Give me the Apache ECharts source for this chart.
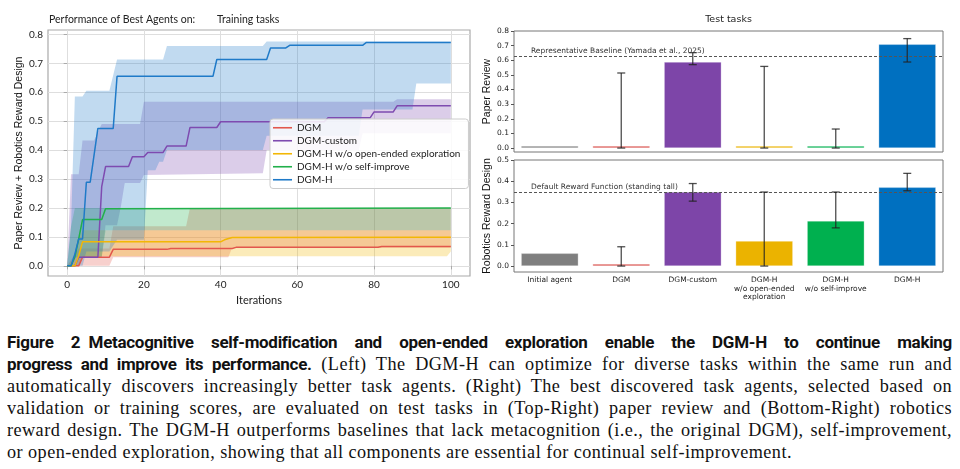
<!DOCTYPE html>
<html>
<head>
<meta charset="utf-8">
<script src="https://cdn.jsdelivr.net/npm/echarts@6/dist/echarts.min.js"></script>
<style>
  html, body { margin: 0; padding: 0; background: #fff; }
  #wrap { position: relative; width: 960px; height: 469px; overflow: hidden; }
  #chart { position: absolute; left: 0; top: 0; width: 960px; height: 320px; }
  #caption { position: absolute; left: 7px; top: 331px; width: 945px;
    font-family: "Liberation Serif", serif; font-size: 18.2px; letter-spacing: 0.45px; color: #111; }
  #caption .ln { height: 22px; line-height: 22px; text-align: justify; text-align-last: justify; overflow: hidden; }
  #caption .ln.last { text-align-last: left; }
  #caption b { font-family: Roboto, "Liberation Sans", sans-serif; font-weight: bold; font-size: 17px; letter-spacing: -0.3px; }
</style>
</head>
<body>
<div id="wrap">
  <div id="chart"></div>
  <div id="caption">
    <div class="ln"><b>Figure 2&ensp;Metacognitive self-modification and open-ended exploration enable the DGM-H to continue making</b></div>
    <div class="ln"><b>progress and improve its performance.</b> (Left) The DGM-H can optimize for diverse tasks within the same run and</div>
    <div class="ln">automatically discovers increasingly better task agents. (Right) The best discovered task agents, selected based on</div>
    <div class="ln">validation or training scores, are evaluated on test tasks in (Top-Right) paper review and (Bottom-Right) robotics</div>
    <div class="ln">reward design. The DGM-H outperforms baselines that lack metacognition (i.e., the original DGM), self-improvement,</div>
    <div class="ln last">or open-ended exploration, showing that all components are essential for continual self-improvement.</div>
  </div>
</div>
<script>
// ---------------------------------------------------------------------------
// Left panel: best-agent score over iterations (mean + spread band).
// Curves are [iteration, score]; bands are [iteration, low, high].
// ---------------------------------------------------------------------------
const iterTicks = [0, 20, 40, 60, 80, 100];
const scoreTicks = [0, 0.1, 0.2, 0.3, 0.4, 0.5, 0.6, 0.7, 0.8];

const dgmMean = [[0, 0], [3, 0], [4, 0.03], [11, 0.03], [12, 0.057], [26, 0.057], [27, 0.06],
  [43, 0.06], [44, 0.064], [81, 0.064], [82, 0.067], [100, 0.067]];
const customMean = [[0, 0], [2, 0], [3, 0.03], [8, 0.03], [9, 0.274], [10, 0.343], [16, 0.343],
  [17, 0.377], [20, 0.377], [21, 0.392], [25, 0.392], [26, 0.414], [31, 0.414], [32, 0.478],
  [39, 0.478], [40, 0.498], [67, 0.498], [68, 0.512], [79, 0.512], [80, 0.532], [85, 0.532],
  [86, 0.553], [100, 0.553]];
const noOpenMean = [[0, 0], [2, 0], [3, 0.035], [4, 0.083], [40, 0.083], [41, 0.09], [43, 0.098],
  [100, 0.099]];
const noSelfMean = [[0, 0], [1, 0], [2, 0.03], [3, 0.093], [4, 0.16], [9, 0.16], [10, 0.197],
  [100, 0.2]];
const dgmhMean = [[0, 0], [1, 0], [2, 0.04], [3, 0.093], [4, 0.093], [5, 0.289], [6, 0.289],
  [8, 0.475], [12, 0.475], [13, 0.655], [38, 0.655], [39, 0.713], [52, 0.713], [53, 0.753],
  [57, 0.753], [58, 0.762], [77, 0.762], [78, 0.772], [100, 0.772]];

const dgmBand = [[0, 0, 0], [3, 0, 0.06], [11, 0, 0.06], [12, 0.03, 0.137], [31, 0.03, 0.137],
  [32, 0.03, 0.2], [42, 0.03, 0.2], [43, 0.063, 0.2], [100, 0.063, 0.2]];
const customBand = [[0, 0, 0], [1, 0, 0.317], [3, 0, 0.317], [4, 0.03, 0.433], [7, 0.03, 0.433],
  [9, 0.03, 0.49], [10, 0.14, 0.49], [13, 0.14, 0.49], [14, 0.205, 0.49], [15, 0.286, 0.49],
  [19, 0.286, 0.49], [20, 0.314, 0.567], [51, 0.32, 0.567], [52, 0.4, 0.567], [76, 0.4, 0.567],
  [77, 0.458, 0.567], [85, 0.458, 0.567], [86, 0.458, 0.576], [100, 0.458, 0.576]];
const noOpenBand = [[0, 0, 0], [2, 0, 0.03], [3, 0, 0.09], [4, 0.033, 0.123], [99, 0.033, 0.123],
  [100, 0.05, 0.123]];
const noSelfBand = [[0, 0, 0], [1, 0, 0.135], [2, 0.03, 0.2], [9, 0.03, 0.2], [10, 0.123, 0.2],
  [100, 0.123, 0.2]];
const dgmhBand = [[0, 0, 0], [1, 0, 0.135], [2, 0, 0.585], [4, 0, 0.585], [5, 0.05, 0.605],
  [11, 0.05, 0.605], [13, 0.09, 0.713], [20, 0.09, 0.713], [21, 0.33, 0.713], [23, 0.33, 0.713],
  [24, 0.36, 0.713], [25, 0.36, 0.713], [26, 0.4, 0.76], [51, 0.4, 0.76], [52, 0.45, 0.775],
  [76, 0.45, 0.775], [77, 0.54, 0.775], [90, 0.54, 0.775], [91, 0.63, 0.775], [100, 0.63, 0.775]];

const runNames = ['DGM', 'DGM-custom', 'DGM-H w/o open-ended exploration', 'DGM-H w/o self-improve', 'DGM-H'];
const runMeans = [dgmMean, customMean, noOpenMean, noSelfMean, dgmhMean];
const runBands = [dgmBand, customBand, noOpenBand, noSelfBand, dgmhBand];

// ---------------------------------------------------------------------------
// Right panels: test-task scores of the best agents, with error ranges.
// ---------------------------------------------------------------------------
const agents = ['Initial agent', 'DGM', 'DGM-custom', 'DGM-H\nw/o open-ended\nexploration',
  'DGM-H\nw/o self-improve', 'DGM-H'];
const paperScore = [0, 0, 0.588, 0, 0, 0.709];
const paperErr = [null, [0, 0.513], [0.57, 0.652], [0, 0.558], [0, 0.13], [0.588, 0.748]];
const paperBaseline = 0.629;
const roboScore = [0.06, 0, 0.349, 0.118, 0.213, 0.371];
const roboErr = [null, [0, 0.091], [0.306, 0.389], [0, 0.349], [0.18, 0.349], [0.355, 0.437]];
const roboBaseline = 0.348;
const paperTicks = [0, 0.1, 0.2, 0.3, 0.4, 0.5, 0.6, 0.7, 0.8];
const roboTicks = [0, 0.1, 0.2, 0.3, 0.4, 0.5];

// --- palette / fonts --------------------------------------------------------
const lineColors = ['#e2574c', '#7e4bb0', '#f2b705', '#22b04b', '#1f7ac8'];
const barColors = ['#7f7f7f', '#d84f4b', '#7d45a8', '#ebb300', '#00b04f', '#0070c0'];
const LEFT_FONT = 'Lato, "Open Sans", sans-serif';
const RIGHT_FONT = '"DejaVu Sans", sans-serif';
const LABEL_FONT = '"Liberation Sans", Arial, sans-serif';
const fmt1 = (v) => v.toFixed(1);

const chart = echarts.init(document.getElementById('chart'), null, { renderer: 'canvas' });

// shaded spread band: one polygon (high edge forward, low edge back) through the axes
function bandSeries(band, color) {
  return {
    type: 'custom', xAxisIndex: 0, yAxisIndex: 0, silent: true, z: 1,
    encode: { x: 0, y: [1, 2] }, data: band,
    renderItem(params, api) {
      if (params.dataIndex !== 0) return null;
      const top = band.map((r) => api.coord([r[0], r[2]]));
      const bot = band.map((r) => api.coord([r[0], r[1]])).reverse();
      return { type: 'polygon', shape: { points: top.concat(bot) }, style: { fill: color, opacity: 0.28 } };
    },
  };
}

// vertical error bar with caps, placed through the category/value scales
function errRender(params, api) {
  const lo = api.coord([api.value(0), api.value(1)]);
  const hi = api.coord([api.value(0), api.value(2)]);
  const w = 4;
  const style = { stroke: '#222', lineWidth: 1.3, opacity: 0.8 };
  return {
    type: 'group',
    children: [
      { type: 'line', shape: { x1: lo[0], y1: lo[1], x2: hi[0], y2: hi[1] }, style },
      { type: 'line', shape: { x1: lo[0] - w, y1: lo[1], x2: lo[0] + w, y2: lo[1] }, style },
      { type: 'line', shape: { x1: hi[0] - w, y1: hi[1], x2: hi[0] + w, y2: hi[1] }, style },
    ],
  };
}
const errRows = (errs) => errs.map((e, i) => (e ? [i, e[0], e[1]] : null)).filter(Boolean);

function baselineLine(value, text) {
  return {
    silent: true,
    symbol: 'none',
    data: [{ yAxis: value }],
    lineStyle: { type: [3, 2], color: '#555', width: 1 },
    label: {
      position: 'insideStartTop', formatter: text, padding: [0, 0, 0, 16],
      fontFamily: RIGHT_FONT, fontSize: 7.5, color: '#333', distance: 1,
    },
  };
}

function barAxisY(gridIndex, min, max, ticks, name) {
  return {
    type: 'value', gridIndex, min, max,
    axisLine: { show: false },
    axisTick: { show: true, customValues: ticks, length: 3, lineStyle: { color: '#555' } },
    axisLabel: { customValues: ticks, formatter: fmt1, fontFamily: RIGHT_FONT, fontSize: 7.5, color: '#222', margin: 5 },
    splitLine: { show: false },
    name, nameLocation: 'middle', nameGap: 21,
    nameTextStyle: { fontFamily: LABEL_FONT, fontSize: 10.5, color: '#111' },
  };
}

const series = [];
runBands.forEach((band, k) => series.push(bandSeries(band, lineColors[k])));
runMeans.forEach((mean, k) => {
  series.push({
    name: runNames[k], type: 'line', xAxisIndex: 0, yAxisIndex: 0, data: mean,
    symbol: 'none', z: 3, color: lineColors[k], lineStyle: { width: 1.5, color: lineColors[k] },
  });
});
series.push({
  type: 'bar', xAxisIndex: 1, yAxisIndex: 1, barWidth: '80%', barMinHeight: 2,
  data: paperScore.map((v, i) => ({ value: v, itemStyle: { color: barColors[i] } })),
  itemStyle: { borderColor: 'rgba(255,255,255,0.6)', borderWidth: 0.5 },
  markLine: baselineLine(paperBaseline, 'Representative Baseline (Yamada et al., 2025)'),
});
series.push({
  type: 'custom', xAxisIndex: 1, yAxisIndex: 1, renderItem: errRender,
  encode: { x: 0, y: [1, 2] }, data: errRows(paperErr), z: 5,
});
series.push({
  type: 'bar', xAxisIndex: 2, yAxisIndex: 2, barWidth: '80%', barMinHeight: 2,
  data: roboScore.map((v, i) => ({ value: v, itemStyle: { color: barColors[i] } })),
  itemStyle: { borderColor: 'rgba(255,255,255,0.6)', borderWidth: 0.5 },
  markLine: baselineLine(roboBaseline, 'Default Reward Function (standing tall)'),
});
series.push({
  type: 'custom', xAxisIndex: 2, yAxisIndex: 2, renderItem: errRender,
  encode: { x: 0, y: [1, 2] }, data: errRows(roboErr), z: 5,
});

chart.setOption({
  animation: false,
  grid: [
    { left: 48, top: 30, width: 422, height: 246, show: true, borderColor: '#aaa', borderWidth: 1.2, backgroundColor: 'transparent' },
    { left: 514, top: 31, width: 429, height: 121, show: true, borderColor: '#777', borderWidth: 1, backgroundColor: 'transparent' },
    { left: 514, top: 160, width: 429, height: 112, show: true, borderColor: '#777', borderWidth: 1, backgroundColor: 'transparent' },
  ],
  xAxis: [
    {
      type: 'value', gridIndex: 0, min: -5, max: 105,
      axisLine: { show: false },
      axisTick: { show: true, customValues: iterTicks, length: 3.5, lineStyle: { color: '#aaa' } },
      axisLabel: { customValues: iterTicks, fontFamily: LEFT_FONT, fontSize: 10, color: '#222', margin: 4 },
      splitLine: { show: true, lineStyle: { color: '#dedede', width: 1 } },
      name: 'Iterations', nameLocation: 'middle', nameGap: 14,
      nameTextStyle: { fontFamily: LEFT_FONT, fontSize: 11, color: '#222' },
    },
    { type: 'category', gridIndex: 1, data: agents, axisLine: { show: false }, axisTick: { show: false }, axisLabel: { show: false } },
    {
      type: 'category', gridIndex: 2, data: agents, axisLine: { show: false }, axisTick: { show: false },
      axisLabel: { fontFamily: RIGHT_FONT, fontSize: 7.5, lineHeight: 8.5, color: '#222', margin: 4, interval: 0 },
    },
  ],
  yAxis: [
    {
      type: 'value', gridIndex: 0, min: -0.035, max: 0.815,
      axisLine: { show: false },
      axisTick: { show: true, customValues: scoreTicks, length: 3.5, lineStyle: { color: '#aaa' } },
      axisLabel: { customValues: scoreTicks, formatter: fmt1, fontFamily: LEFT_FONT, fontSize: 10, color: '#222', margin: 5 },
      splitLine: { show: true, lineStyle: { color: '#dedede', width: 1 } },
      name: 'Paper Review + Robotics Reward Design', nameLocation: 'middle', nameGap: 23,
      nameTextStyle: { fontFamily: LABEL_FONT, fontSize: 10.5, color: '#111' },
    },
    barAxisY(1, -0.027, 0.8, paperTicks, 'Paper Review'),
    barAxisY(2, -0.028, 0.5, roboTicks, 'Robotics Reward Design'),
  ],
  legend: {
    data: runNames, orient: 'vertical', left: 270, top: 119, selectedMode: false,
    icon: 'rect', itemWidth: 19, itemHeight: 1.6, itemGap: 1.5,
    backgroundColor: 'rgba(255,255,255,0.85)', borderColor: '#ccc', borderWidth: 1, borderRadius: 3,
    padding: [3, 8, 3, 3],
    textStyle: { fontFamily: LEFT_FONT, fontSize: 10, lineHeight: 11.5, color: '#222' },
  },
  graphic: [
    { type: 'text', left: 49, top: 14, style: { text: 'Performance of Best Agents on:', font: '10.5px ' + LEFT_FONT, fill: '#222' } },
    { type: 'text', left: 217, top: 14, style: { text: 'Training tasks', font: '10.5px ' + LEFT_FONT, fill: '#222' } },
    { type: 'text', x: 728.5, y: 20, style: { text: 'Test tasks', font: '9.5px ' + RIGHT_FONT, fill: '#222', align: 'center', verticalAlign: 'middle' } },
  ],
  series,
});

// keep every caption line on one row: shrink slightly if it would wrap
document.querySelectorAll('#caption .ln').forEach((el) => {
  let size = parseFloat(getComputedStyle(el).fontSize);
  while (el.scrollHeight > 24 && size > 12) {
    size -= 0.25;
    el.style.fontSize = size + 'px';
  }
});
</script>
</body>
</html>
